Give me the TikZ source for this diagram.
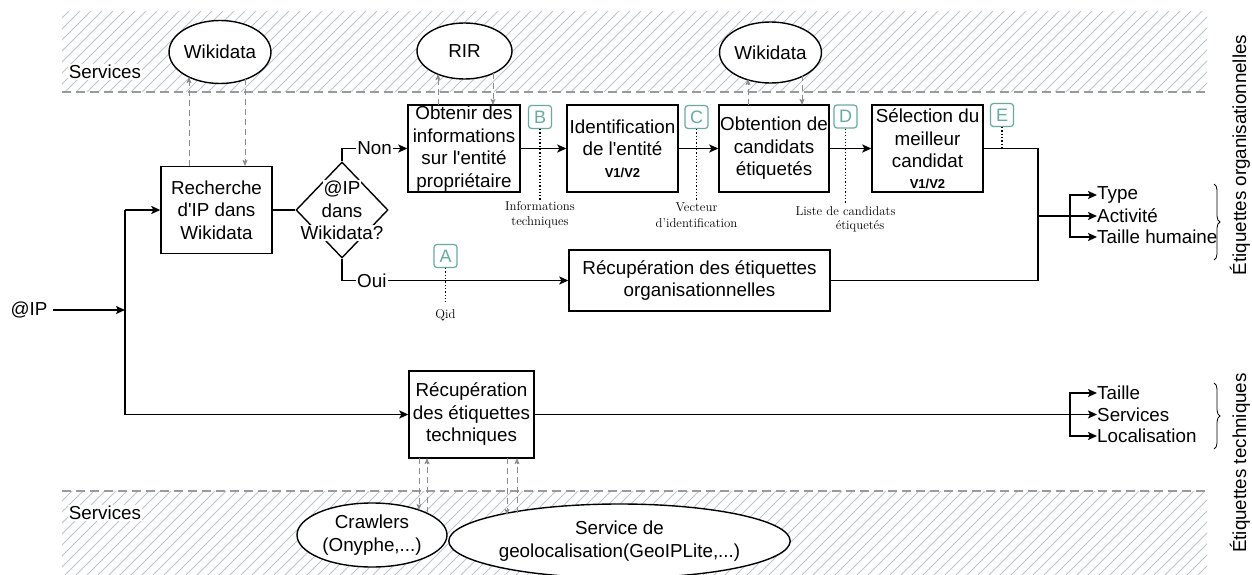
\documentclass[tikz,border=0pt]{standalone}
\usepackage{fontspec}
\newfontfamily\arialf{Liberation Sans}
\usetikzlibrary{arrows.meta,shapes.geometric,decorations.pathreplacing}
\definecolor{hatchc}{HTML}{BCC6D0}
\definecolor{bandc}{HTML}{9A9A9A}
\definecolor{grayarr}{HTML}{8C8C8C}
\definecolor{teal}{HTML}{67AB9F}
\newcommand{\vtag}{{\arialf\bfseries\fontsize{13}{15}\selectfont V1/V2}}
\begin{document}
\begin{tikzpicture}[x=1pt,y=-1pt,
  every node/.style={font=\arialf\fontsize{18.8}{22.5}\selectfont, inner sep=0pt},
  box/.style={draw, line width=1.4pt, align=center, fill=white},
  ell/.style={draw, ellipse, line width=1.4pt, align=center, fill=white},
  hatch/.style={draw=hatchc, line width=0.9pt},
  bandline/.style={draw=bandc, line width=1.4pt, dash pattern=on 9pt off 5pt},
  line/.style={draw, line width=1.6pt},
  arr/.style={line, -{Stealth[length=9pt,width=8pt,inset=2pt]}},
  garr/.style={draw=grayarr, line width=1pt, dash pattern=on 6pt off 4pt, -{Stealth[length=6pt,width=5pt,inset=1pt]}, grayarr},
  badge/.style={draw=teal, text=teal, line width=1.2pt, rounded corners=3pt, minimum width=23pt, minimum height=23pt, font=\arialf\fontsize{18}{20}\selectfont},
  dotl/.style={draw, line width=1.3pt, dotted},
  note/.style={font=\rmfamily\fontsize{12.8}{15.5}\selectfont, align=center},
  lbl/.style={anchor=west}
]
\useasboundingbox (0,0) rectangle (1252,575);
\fill[white] (0,0) rectangle (1252,575);

% service bands
\begin{scope}
  \clip (62,12) rectangle (1207,92);
  \foreach \i in {-100,-89,...,1210} \draw[hatch] (\i,92) -- ++(90,-90);
\end{scope}
\begin{scope}
  \clip (62,491) rectangle (1207,575);
  \foreach \i in {-100,-89,...,1210} \draw[hatch] (\i,575) -- ++(90,-90);
\end{scope}
\draw[bandline] (62,92) -- (1207,92);
\draw[bandline] (62,491) -- (1207,491);
\node[fill=white, inner sep=1pt] (svc1) at (105,72) {Services};
\node[fill=white, inner sep=1pt] (svc2) at (105,513) {Services};

% service ellipses
\node[ell, minimum width=95pt, minimum height=63pt] (wk1) at (220,52) {Wikidata};
\node[ell, minimum width=95pt, minimum height=56pt] (rir) at (464.5,51) {RIR};
\node[ell, minimum width=93pt, minimum height=61pt] (wk2) at (770.5,52.5) {Wikidata};
\node[ell, minimum width=150pt, minimum height=64pt] (crawl) at (372,535) {Crawlers\\(Onyphe,...)};
\node[ell, minimum width=317pt, minimum height=74pt] (geo) at (619.5,541) {Service de\\geolocalisation(GeoIPLite,...)};

% process boxes
\node[box, minimum width=111pt, minimum height=87pt] (rech) at (216.5,210) {Recherche\\d'IP dans\\Wikidata};
\node[draw, diamond, line width=1.4pt, minimum width=92pt, minimum height=96pt] (dia) at (342,210) {};
\node[fill=white, inner sep=1pt] (d1) at (342,189) {@IP};
\node[fill=white, inner sep=1pt] (d2) at (342,211) {dans};
\node[fill=white, inner sep=1pt] (d3) at (342,233) {Wikidata?};

\node[box, minimum width=112pt, minimum height=87pt] (obt) at (464,148.5) {Obtenir des\\informations\\sur l'entité\\propriétaire};
\node[box, minimum width=111pt, minimum height=87pt] (ident) at (622.5,148.5) {Identification\\de l'entité\\[-1pt]\vtag};
\node[box, minimum width=110pt, minimum height=87pt] (obtn) at (774,148.5) {Obtention de\\candidats\\étiquetés};
\node[box, minimum width=111pt, minimum height=87pt] (sel) at (927.5,148.5) {Sélection du\\meilleur\\candidat\\[-2pt]\vtag};
\node[box, minimum width=261pt, minimum height=61pt] (rorg) at (699.5,280.5) {Récupération des étiquettes\\organisationnelles};
\node[box, minimum width=125pt, minimum height=87pt] (rtech) at (471.5,414.5) {Récupération\\des étiquettes\\techniques};

% input
\node (ip) at (29,310) {@IP};
\coordinate (j) at (125,310);
\coordinate (jt) at (125,210);
\coordinate (jb) at (125,414.5);
\draw[arr] ([xshift=5pt]ip.east) -- (j);
\draw[line] (jt) -- (jb);
\draw[arr] (jt) -- (rech.west);
\draw[arr] (jb) -- (rtech.west);
\draw[line] (rech.east) -- (dia.west);
\draw[arr] (dia.north) |- node[pos=0.75, fill=white, inner sep=1pt] {Non} (obt.west);
\draw[arr] (dia.south) |- node[pos=0.566, fill=white, inner sep=1pt] {Oui} (rorg.west);
\draw[arr] (obt.east) -- (ident.west);
\draw[arr] (ident.east) -- (obtn.west);
\draw[arr] (obtn.east) -- (sel.west);

% merge to outputs
\coordinate (mb) at (1038,280.5);
\coordinate (mo) at (1038,216);
\coordinate (bo) at (1070,216);
\draw[line] (sel.east) -| (mb) -- (rorg.east);
\draw[line] (mo) -- (bo);
\node[lbl] (type) at (1097,195) {Type};
\node[lbl] (act) at (1097,216) {Activité};
\node[lbl] (tail) at (1097,237) {Taille humaine};
\draw[arr] (bo) |- (type.west);
\draw[arr] (bo) -- (act.west);
\draw[arr] (bo) |- (tail.west);

\coordinate (bt) at (1070,414.5);
\draw[line] (rtech.east) -- (bt);
\node[lbl] (taille) at (1097,393) {Taille};
\node[lbl] (serv) at (1097,414.5) {Services};
\node[lbl] (loc) at (1097,436) {Localisation};
\draw[arr] (bt) |- (taille.west);
\draw[arr] (bt) -- (serv.west);
\draw[arr] (bt) |- (loc.west);

% braces and side labels
\coordinate (br1a) at (1214,184);
\coordinate (br1b) at (1214,260);
\coordinate (br2a) at (1214,383);
\coordinate (br2b) at (1214,449);
\draw[line width=0.8pt, decorate, decoration={brace, amplitude=6pt}] (br1a) -- (br1b);
\draw[line width=0.8pt, decorate, decoration={brace, amplitude=6pt}] (br2a) -- (br2b);
\node[rotate=90] (lorg) at (1240,155) {Étiquettes organisationnelles};
\node[rotate=90] (ltech) at (1240,463) {Étiquettes techniques};

% gray dashed service calls
\coordinate (r1) at (189,166); \coordinate (w1u) at (189,77);
\coordinate (r2) at (245,166); \coordinate (w1d) at (245,79);
\draw[garr] (r1) -- (w1u);
\draw[garr] (w1d) -- (r2);
\coordinate (o1) at (438,105); \coordinate (ru) at (438,74);
\coordinate (o2) at (493,105); \coordinate (rd) at (493,73.5);
\draw[garr] (o1) -- (ru);
\draw[garr] (rd) -- (o2);
\coordinate (n1) at (748,105); \coordinate (w2u) at (748,79);
\coordinate (n2) at (802,105); \coordinate (w2d) at (802,75);
\draw[garr] (n1) -- (w2u);
\draw[garr] (w2d) -- (n2);
\coordinate (t1) at (419,458); \coordinate (c1) at (419,510);
\coordinate (t2) at (427,458); \coordinate (c2) at (427,513);
\draw[garr] (t1) -- (c1);
\draw[garr] (c2) -- (t2);
\coordinate (t3) at (507,458); \coordinate (g1) at (507,515);
\coordinate (t4) at (517,458); \coordinate (g2) at (517,513);
\draw[garr] (t3) -- (g1);
\draw[garr] (g2) -- (t4);

% badges and notes
\node[badge] (bA) at (445.5,256) {A};
\node[badge] (bB) at (540,117) {B};
\node[badge] (bC) at (696.5,117) {C};
\node[badge] (bD) at (845.5,116.5) {D};
\node[badge] (bE) at (1002,115) {E};
\coordinate (eA) at (445.5,303);
\coordinate (eB) at (540,200);
\coordinate (eC) at (696.5,200);
\coordinate (eD) at (845.5,203);
\coordinate (eE) at (1002,148);
\draw[dotl] (bA.south) -- (eA);
\draw[dotl] (bB.south) -- (eB);
\draw[dotl] (bC.south) -- (eC);
\draw[dotl] (bD.south) -- (eD);
\draw[dotl] (bE.south) -- (eE);
\node[note] (nA) at (445.5,315) {Qid};
\node[note] (nB) at (540,214.5) {Informations\\techniques};
\node[note] (nC) at (696.5,215) {Vecteur\\d'identification};
\node[note] (nD1) at (845.5,211) {Liste de candidats};
\node[note] (nD2) at (860,226) {étiquetés};
\end{tikzpicture}
\end{document}
